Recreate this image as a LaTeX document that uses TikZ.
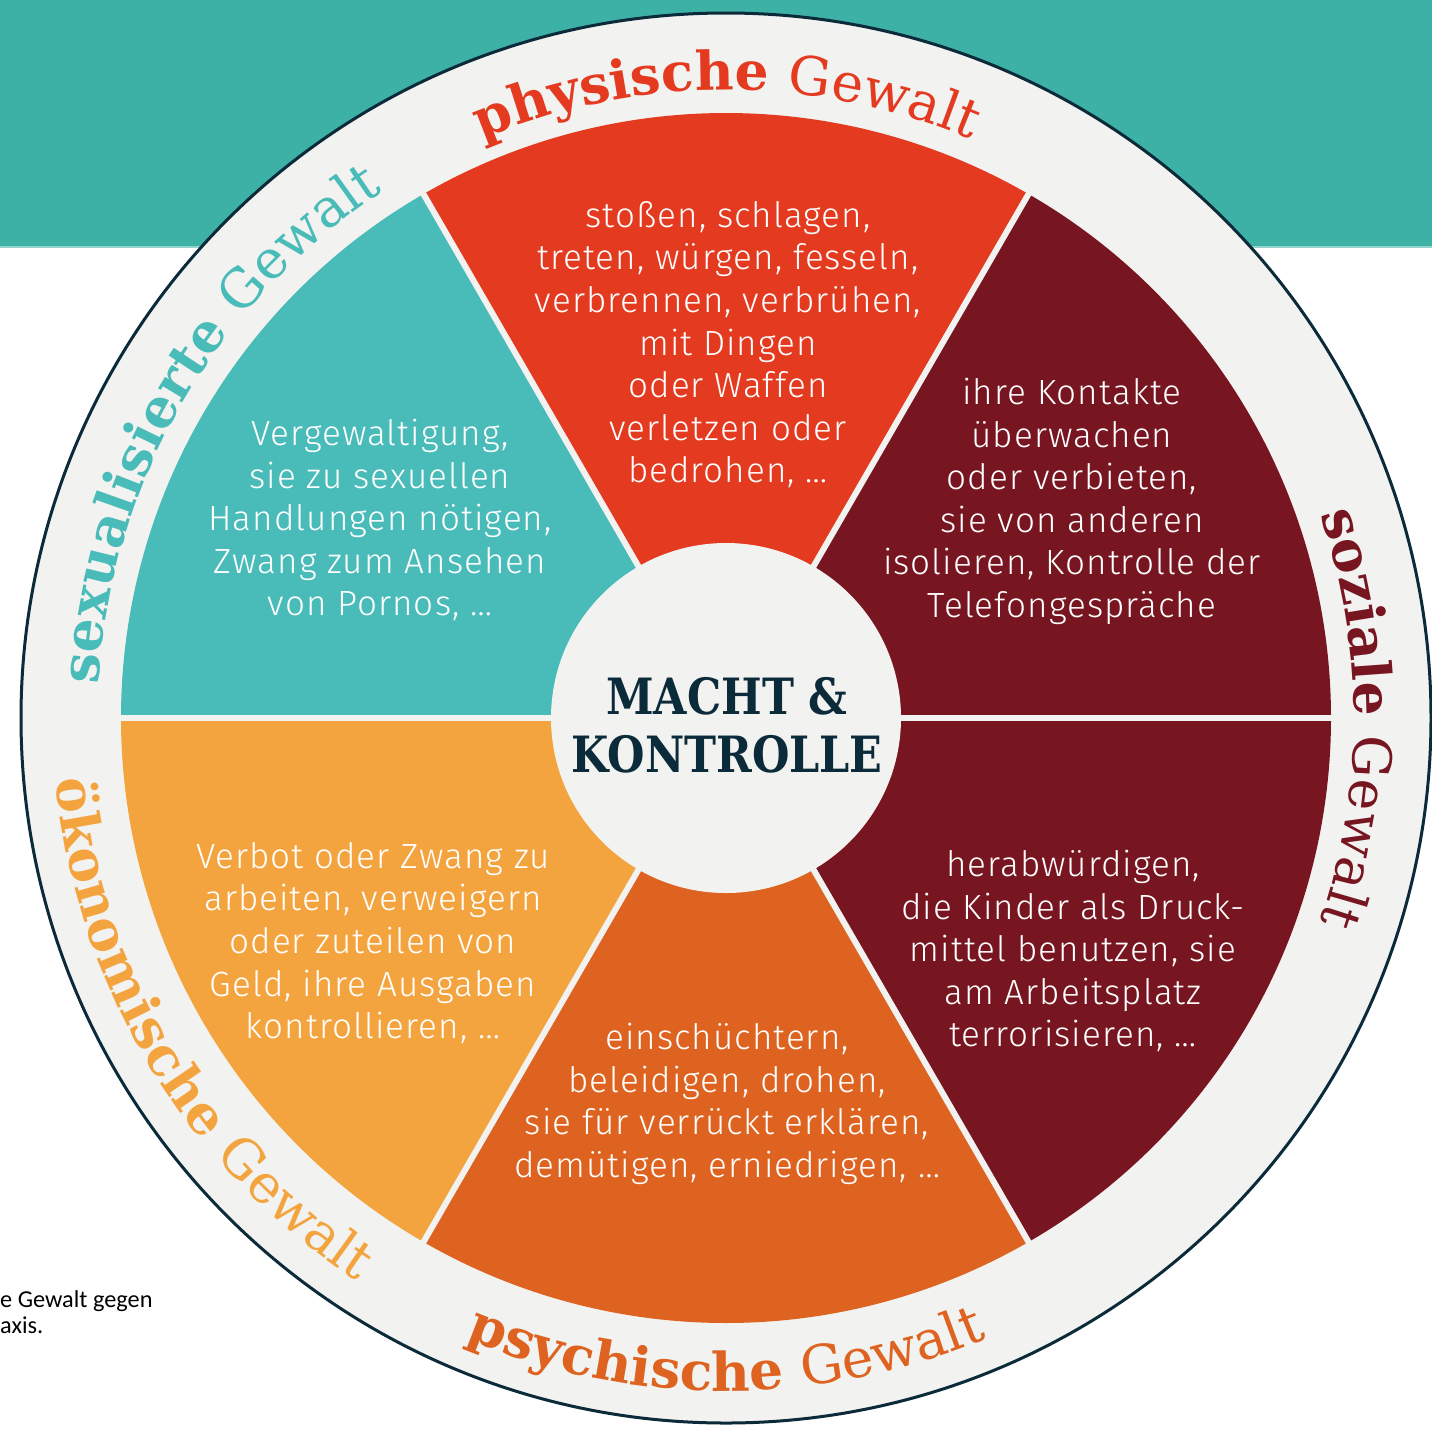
\documentclass[tikz,border=0pt]{standalone}
\usepackage{fontspec}
\setmainfont[LetterSpace=3]{Fira Sans Light}
\newfontfamily\ringfont{DejaVu Serif}
\newfontfamily\hubfont[FakeStretch=0.86]{DejaVu Serif}
\newfontfamily\notefont{Carlito}
\usetikzlibrary{decorations.text}

\definecolor{bandteal}{HTML}{3EB1A6}
\definecolor{ringgray}{HTML}{F2F2F0}
\definecolor{rimnavy}{HTML}{0C2B3A}
\definecolor{physred}{HTML}{E43A20}
\definecolor{sozred}{HTML}{771520}
\definecolor{psychorange}{HTML}{DE6320}
\definecolor{oekoorange}{HTML}{F4A43F}
\definecolor{sexteal}{HTML}{49BBB9}

\tikzset{%
  slicetext/.style={text=white, align=center, anchor=north, inner sep=0pt,
    font=\fontsize{35}{42.6}\selectfont},
  gap/.style={draw=ringgray, line width=6pt},
  notetext/.style={anchor=base west, inner sep=0pt, font=\notefont\fontsize{24.3}{29}\selectfont},
}

\newcommand{\ringbold}{\ringfont\bfseries\fontsize{53.5}{54}\selectfont}
\newcommand{\ringthin}{\ringfont\mdseries\fontsize{53.5}{54}\selectfont}

% label bent along the ring: colour, bold word, thin word, start, end, radius
\newcommand{\ringlabel}[6]{%
  \path[decorate, decoration={text along path, text align=center, text color=#1,
      text={|\ringbold|#2 |\ringthin|#3}}]
    (#4:#6) arc[start angle=#4, end angle=#5, radius=#6];%
}

\begin{document}
\begin{tikzpicture}[x=1pt, y=1pt]
  \useasboundingbox (0,0) rectangle (1432,-1428);

  % teal band behind the wheel
  \fill[bandteal] (0,0) rectangle (1432,-247);
  \draw[bandteal!55, line width=2pt] (0,-247) -- (1432,-247);

  % set up the centre of the wheel
  \coordinate (O) at (726,-718);

  \begin{scope}[shift={(O)}]
    % outer ring
    \filldraw[fill=ringgray, draw=rimnavy, line width=3pt] (0,0) circle[radius=705];

    % the six slices
    \fill[sozred]      (0,0) -- (0:605)   arc[start angle=0,   end angle=60,  radius=605] -- cycle;
    \fill[physred]     (0,0) -- (60:605)  arc[start angle=60,  end angle=120, radius=605] -- cycle;
    \fill[sexteal]     (0,0) -- (120:605) arc[start angle=120, end angle=180, radius=605] -- cycle;
    \fill[oekoorange]  (0,0) -- (180:605) arc[start angle=180, end angle=240, radius=605] -- cycle;
    \fill[psychorange] (0,0) -- (240:605) arc[start angle=240, end angle=300, radius=605] -- cycle;
    \fill[sozred]      (0,0) -- (300:605) arc[start angle=300, end angle=360, radius=605] -- cycle;
    \foreach \a in {0,60,...,300}
      \draw[gap] (0,0) -- (\a:606);

    % hub
    \fill[ringgray] (0,0) circle[radius=175];

    % bent labels on the ring
    \ringlabel{physred}{physische}{Gewalt}{135}{45}{628}
    \ringlabel{sozred}{soziale}{Gewalt}{45}{-45}{628}
    \ringlabel{psychorange}{psychische}{Gewalt}{225}{315}{673}
    \ringlabel{oekoorange}{ökonomische}{Gewalt}{166}{256}{673}
    \ringlabel{sexteal}{sexualisierte}{Gewalt}{195}{105}{628}
  \end{scope}

  % texts in the slices
  \node[slicetext] (physText) at (728,-201)
    {stoßen, schlagen,\\treten, würgen, fesseln,\\verbrennen, verbrühen,\\mit Dingen\\oder Waffen\\verletzen oder\\bedrohen, …};
  \node[slicetext] (sozTextA) at (1072,-378)
    {ihre Kontakte\\überwachen\\oder verbieten,\\sie von anderen\\isolieren, Kontrolle der\\Telefongespräche};
  \node[slicetext] (sozTextB) at (1073,-850)
    {herabwürdigen,\\die Kinder als Druck-\\mittel benutzen, sie\\am Arbeitsplatz\\terrorisieren, …};
  \node[slicetext] (psychText) at (727,-1023)
    {einschüchtern,\\beleidigen, drohen,\\sie für verrückt erklären,\\demütigen, erniedrigen, …};
  \node[slicetext] (oekoText) at (373,-842)
    {Verbot oder Zwang zu\\arbeiten, verweigern\\oder zuteilen von\\Geld, ihre Ausgaben\\kontrollieren, …};
  \node[slicetext] (sexText) at (380,-419)
    {Vergewaltigung,\\sie zu sexuellen\\Handlungen nötigen,\\Zwang zum Ansehen\\von Pornos, …};

  % centre title
  \node[text=rimnavy, align=center, font=\hubfont\bfseries\fontsize{50}{58}\selectfont] (hub) at (727,-725)
    {MACHT \&\\KONTROLLE};

  % cut-off caption at the left
  \node[notetext] (noteA) at (0,-1307) {e Gewalt gegen};
  \node[notetext] (noteB) at (0,-1333) {axis.};
\end{tikzpicture}
\end{document}
